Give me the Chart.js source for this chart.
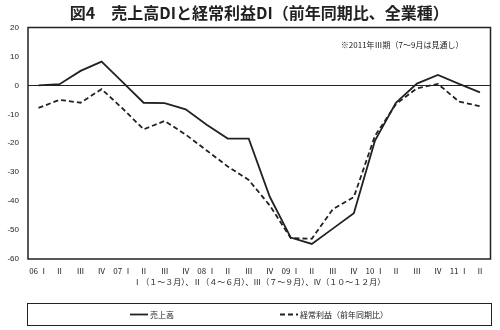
<!DOCTYPE html>
<html lang="ja">
<head>
<meta charset="utf-8">
<script src="https://cdn.jsdelivr.net/npm/chart.js@4.4.0/dist/chart.umd.min.js"></script>
<style>
  body { margin: 0; background: #fff; }
  #wrap { width: 500px; height: 330px; position: relative; }
</style>
</head>
<body>
<div id="wrap"><canvas id="grafico"></canvas></div>
<script>
// 四半期ラベル（06年Ⅰ期～11年Ⅱ期）
const kiLabels = [
  '06 Ⅰ', 'Ⅱ', 'Ⅲ', 'Ⅳ',
  '07 Ⅰ', 'Ⅱ', 'Ⅲ', 'Ⅳ',
  '08 Ⅰ', 'Ⅱ', 'Ⅲ', 'Ⅳ',
  '09 Ⅰ', 'Ⅱ', 'Ⅲ', 'Ⅳ',
  '10 Ⅰ', 'Ⅱ', 'Ⅲ', 'Ⅳ',
  '11 Ⅰ', 'Ⅱ'
];

// 売上高DI
const uriageDI = [
  0, 0.4, 5, 8.2,
  1.1, -6, -6.1, -8.3,
  -13.6, -18.4, -18.4, -38.5,
  -52.6, -54.8, -49.5, -44.2,
  -19.2, -6, 0.6, 3.6,
  0.5, -2.4
];

// 経常利益DI
const keijoDI = [
  -7.8, -5, -6, -1.3,
  -8, -15.2, -12.3, -17,
  -22.5, -28, -32.7, -41.5,
  -52.8, -53, -42.8, -38.6,
  -17.5, -6.5, -1, 0.5,
  -5.6, -7.2
];

const yMin = -60;
const yMax = 20;
const yStep = 10;

const titulo = '図4　売上高DIと経常利益DI（前年同期比、全業種）';
const chuki = '※2011年Ⅲ期（7～9月は見通し）';
const kiSetsumei = 'Ⅰ（１～３月）、Ⅱ（４～６月）、Ⅲ（７～９月）、Ⅳ（１０～１２月）';

const fonteJP = "'Noto Sans CJK JP', sans-serif";
const fonteNum = "'Liberation Sans Narrow', 'Liberation Sans', sans-serif";
const corTexto = '#222';

// 枠線・タイトル・注記・凡例を描く
const decoracao = {
  id: 'decoracao',
  afterDraw(chart) {
    const ctx = chart.ctx;
    const area = chart.chartArea;
    ctx.save();

    // グラフ枠
    ctx.strokeStyle = '#222';
    ctx.lineWidth = 1.5;
    ctx.setLineDash([]);
    ctx.strokeRect(area.left, area.top, area.right - area.left, area.bottom - area.top);

    // タイトル
    ctx.fillStyle = corTexto;
    ctx.font = 'bold 16px ' + fonteJP;
    ctx.textAlign = 'center';
    ctx.textBaseline = 'middle';
    ctx.fillText(titulo, (area.left + area.right) / 2, 12.5);

    // 注記
    ctx.font = '8px ' + fonteJP;
    ctx.textAlign = 'right';
    ctx.fillText(chuki, area.right - 27, area.top + 17);

    // 凡例
    const caixa = { x: 27.5, y: 303.5, w: 464, h: 22 };
    ctx.lineWidth = 1;
    ctx.strokeRect(caixa.x, caixa.y, caixa.w, caixa.h);
    const meioY = caixa.y + caixa.h / 2;
    const posicoes = [130, 280];
    chart.data.datasets.forEach((ds, i) => {
      const x0 = posicoes[i];
      ctx.strokeStyle = ds.borderColor;
      ctx.lineWidth = ds.borderWidth;
      ctx.setLineDash(ds.borderDash || []);
      ctx.beginPath();
      ctx.moveTo(x0, meioY);
      ctx.lineTo(x0 + 18, meioY);
      ctx.stroke();
      ctx.setLineDash([]);
      ctx.fillStyle = corTexto;
      ctx.font = '8px ' + fonteJP;
      ctx.textAlign = 'left';
      ctx.fillText(ds.label, x0 + 20, meioY);
    });

    ctx.restore();
  }
};

const ctx = document.getElementById('grafico').getContext('2d');
const grafico = new Chart(ctx, {
  type: 'line',
  data: {
    labels: kiLabels,
    datasets: [
      {
        label: '売上高',
        data: uriageDI,
        borderColor: '#222',
        borderWidth: 1.8,
        pointRadius: 0,
        tension: 0,
        fill: false
      },
      {
        label: '経常利益（前年同期比）',
        data: keijoDI,
        borderColor: '#222',
        borderWidth: 1.8,
        borderDash: [5, 3],
        pointRadius: 0,
        tension: 0,
        fill: false
      }
    ]
  },
  options: {
    responsive: true,
    maintainAspectRatio: false,
    animation: false,
    layout: {
      padding: { top: 27.5, right: 9.5, bottom: 40, left: 0 }
    },
    plugins: {
      legend: { display: false },
      title: { display: false },
      tooltip: { enabled: false }
    },
    scales: {
      x: {
        offset: true,
        grid: { display: false, drawTicks: false },
        border: { display: false },
        ticks: {
          autoSkip: false,
          maxRotation: 0,
          padding: 7,
          color: corTexto,
          font: { size: 8, family: fonteJP }
        },
        title: {
          display: true,
          text: kiSetsumei,
          color: corTexto,
          font: { size: 8, family: fonteJP },
          padding: { top: 0, bottom: 3 }
        },
        afterFit(scale) {
          scale.height = 31;
        }
      },
      y: {
        min: yMin,
        max: yMax,
        grid: {
          drawTicks: false,
          lineWidth: 1,
          color: (c) => (c.tick && c.tick.value === 0 ? '#222' : 'rgba(0,0,0,0)')
        },
        border: { display: false },
        ticks: {
          stepSize: yStep,
          padding: 9,
          color: corTexto,
          font: { size: 8, family: fonteNum }
        },
        afterFit(scale) {
          scale.width = 28;
        }
      }
    }
  },
  plugins: [decoracao]
});
</script>
</body>
</html>
